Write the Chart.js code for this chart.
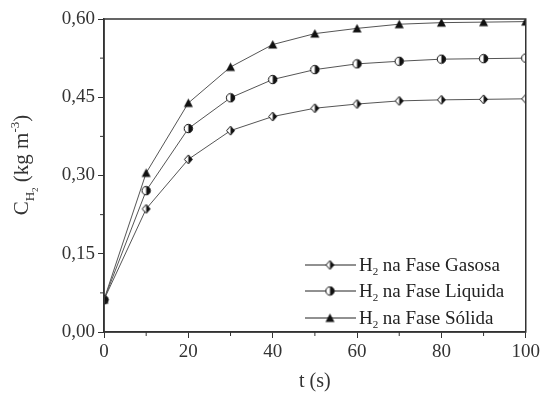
<!DOCTYPE html>
<html><head><meta charset="utf-8">
<script src="https://cdn.jsdelivr.net/npm/chart.js@4"></script>
<style>html,body{margin:0;background:#fff}</style>
</head><body>
<canvas id="chart" width="543" height="398"></canvas>
<script>
// dados
const tempo = [0, 10, 20, 30, 40, 50, 60, 70, 80, 90, 100];
const faseGasosa = [0.062, 0.236, 0.331, 0.386, 0.413, 0.429, 0.437, 0.443, 0.445, 0.446, 0.447];
const faseLiquida = [0.062, 0.271, 0.390, 0.449, 0.484, 0.503, 0.514, 0.519, 0.523, 0.524, 0.525];
const faseSolida = [0.062, 0.305, 0.439, 0.508, 0.551, 0.572, 0.582, 0.590, 0.593, 0.594, 0.595];
const nomes = ['na Fase Gasosa', 'na Fase Liquida', 'na Fase Sólida'];
const minorX = [10, 30, 50, 70, 90];
const minorY = [0.075, 0.225, 0.375, 0.525];

const INK = '#333';
const FONT = '"Liberation Serif", "DejaVu Serif", serif';

function marker(kind) {
    const c = document.createElement('canvas');
    c.width = 11; c.height = 11;
    const g = c.getContext('2d');
    g.strokeStyle = '#111'; g.lineWidth = 1;
    if (kind === 'tri') {
        g.fillStyle = '#111';
        g.beginPath(); g.moveTo(5.5, 1); g.lineTo(10, 9.5); g.lineTo(1, 9.5); g.closePath();
        g.fill();
    } else if (kind === 'diamond') {
        g.fillStyle = '#fff';
        g.beginPath(); g.moveTo(5.5, 1); g.lineTo(9.5, 5.5); g.lineTo(5.5, 10); g.lineTo(1.5, 5.5); g.closePath();
        g.fill(); g.stroke();
        g.fillStyle = '#111';
        g.beginPath(); g.moveTo(5.5, 1); g.lineTo(9.5, 5.5); g.lineTo(5.5, 10); g.closePath(); g.fill();
    } else {
        g.fillStyle = '#fff';
        g.beginPath(); g.arc(5.5, 5.5, 4.2, 0, Math.PI * 2); g.fill(); g.stroke();
        g.fillStyle = '#111';
        g.beginPath(); g.arc(5.5, 5.5, 4.2, -Math.PI / 2, Math.PI / 2); g.closePath(); g.fill();
    }
    return c;
}
const marcas = [marker('diamond'), marker('circle'), marker('tri')];

function serie(valores, i) {
    return {
        label: nomes[i],
        data: tempo.map((t, k) => ({ x: t, y: valores[k] })),
        borderColor: '#555', borderWidth: 1,
        pointStyle: marcas[i], pointRadius: 5,
        tension: 0, fill: false
    };
}

// moldura, ticks menores, título do eixo y e legenda
const extras = {
    id: 'extras',
    afterDraw(chart) {
        const { ctx, chartArea: a, scales } = chart;
        ctx.save();
        ctx.strokeStyle = INK; ctx.lineWidth = 1.5;
        ctx.strokeRect(a.left, a.top, a.right - a.left, a.bottom - a.top);
        ctx.lineWidth = 1;
        ctx.beginPath();
        minorX.forEach(v => { const x = scales.x.getPixelForValue(v); ctx.moveTo(x, a.bottom); ctx.lineTo(x, a.bottom + 4); });
        minorY.forEach(v => { const y = scales.y.getPixelForValue(v); ctx.moveTo(a.left - 4, y); ctx.lineTo(a.left, y); });
        ctx.stroke();

        // título y: C_H2 (kg m^-3)
        ctx.translate(22, 165);
        ctx.rotate(-Math.PI / 2);
        ctx.fillStyle = INK; ctx.textBaseline = 'alphabetic';
        const parts = [
            ['C', 21, 0], ['H', 13, 6], ['2', 9, 10], [' (kg m', 21, 0], ['-3', 13, -9], [')', 21, 0]
        ];
        let w = 0;
        parts.forEach(p => { ctx.font = p[1] + 'px ' + FONT; w += ctx.measureText(p[0]).width; });
        let x = -w / 2;
        parts.forEach(p => {
            ctx.font = p[1] + 'px ' + FONT;
            ctx.fillText(p[0], x, 6 + p[2]);
            x += ctx.measureText(p[0]).width;
        });
        ctx.setTransform(1, 0, 0, 1, 0, 0);

        // legenda
        const rows = [265, 291, 318];
        rows.forEach((y, i) => {
            ctx.strokeStyle = '#222'; ctx.lineWidth = 1;
            ctx.beginPath(); ctx.moveTo(305, y); ctx.lineTo(356, y); ctx.stroke();
            ctx.drawImage(marcas[i], 330 - 5.5, y - 5.5);
            ctx.fillStyle = '#222';
            ctx.font = '19px ' + FONT;
            ctx.fillText('H', 359, y + 6);
            const hw = ctx.measureText('H').width;
            ctx.font = '11px ' + FONT;
            ctx.fillText('2', 359 + hw, y + 10);
            ctx.font = '19px ' + FONT;
            ctx.fillText(nomes[i], 359 + hw + 10, y + 6);
        });
        ctx.restore();
    }
};

new Chart(document.getElementById('chart'), {
    type: 'line',
    data: { datasets: [serie(faseGasosa, 0), serie(faseLiquida, 1), serie(faseSolida, 2)] },
    options: {
        responsive: false, animation: false, devicePixelRatio: 1,
        layout: { padding: { top: 19, right: 17, left: 0, bottom: 0 } },
        plugins: { legend: { display: false }, tooltip: { enabled: false } },
        scales: {
            x: {
                type: 'linear', min: 0, max: 100,
                ticks: { stepSize: 20, color: INK, padding: 3, font: { family: FONT, size: 19 } },
                grid: { drawOnChartArea: false, tickLength: 6, tickColor: INK, tickWidth: 1 },
                border: { color: INK, width: 1.5 },
                title: { display: true, text: 't (s)', color: INK, font: { family: FONT, size: 20 }, padding: { top: 6 } },
                afterFit: s => { s.height = 66; }
            },
            y: {
                min: 0, max: 0.6,
                ticks: { stepSize: 0.15, color: INK, padding: 3, font: { family: FONT, size: 19 },
                         callback: v => v.toFixed(2).replace('.', ',') },
                grid: { drawOnChartArea: false, tickLength: 6, tickColor: INK, tickWidth: 1 },
                border: { color: INK, width: 1.5 },
                afterFit: s => { s.width = 104; }
            }
        }
    },
    plugins: [extras]
});
</script>
</body></html>
